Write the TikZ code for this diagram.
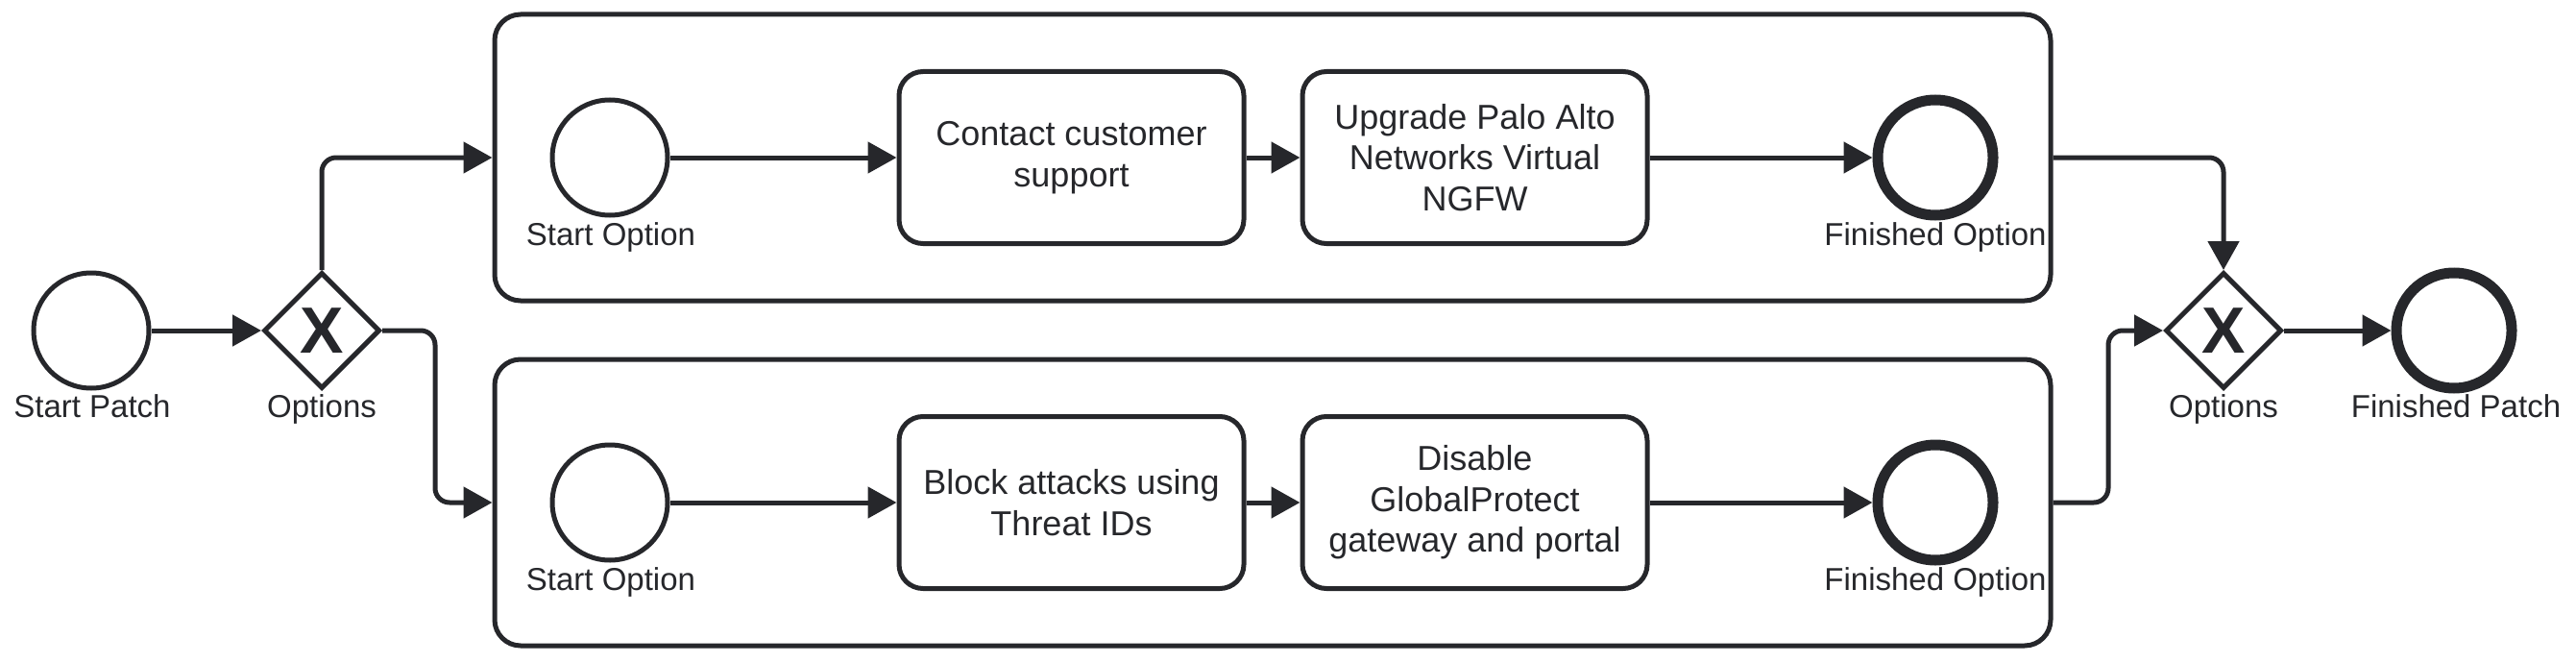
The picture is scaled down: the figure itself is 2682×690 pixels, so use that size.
\documentclass[tikz,border=0pt]{standalone}
\usepackage{fontspec}
\setmainfont{Liberation Sans}
\usetikzlibrary{arrows.meta,shapes.geometric}
\definecolor{ink}{HTML}{26272B}
\begin{document}
\begin{tikzpicture}[x=1pt,y=-1pt,
  ev/.style={circle,draw=ink,line width=5pt,minimum size=120pt,inner sep=0pt},
  evend/.style={ev,line width=11pt},
  gw/.style={diamond,draw=ink,line width=5pt,minimum width=121pt,minimum height=121pt,inner sep=0pt,aspect=1,font=\fontsize{68}{68}\selectfont\bfseries,text=ink},
  pool/.style={draw=ink,line width=5pt,rounded corners=27pt,minimum width=1620pt,minimum height=298pt,inner sep=0pt},
  task/.style={draw=ink,line width=5pt,rounded corners=25pt,minimum width=359pt,minimum height=179pt,align=center,font=\fontsize{36}{42.5}\selectfont,text=ink},
  lbl/.style={font=\fontsize{33}{39}\selectfont,text=ink,anchor=base,inner sep=0pt},
  flow/.style={draw=ink,line width=5pt,-{Triangle[length=30pt,width=32pt]},rounded corners=15pt},
]
\useasboundingbox (0,0) rectangle (2682,690);
% pools
\node[pool] (pool1) at (1325,164) {};
\node[pool] (pool2) at (1325,523) {};
% outer events and gateways
\node[ev] (sp) at (95,344) {};
\node[gw] (g1) at (335,344) {X};
\node[gw] (g2) at (2315,344) {X};
\node[evend] (fp) at (2555,344) {};
% top lane
\node[ev] (so1) at (635,164) {};
\node[task] (t1) at (1115.5,164) {Contact customer\\support};
\node[task] (t2) at (1535.5,164) {Upgrade Palo Alto\\Networks Virtual\\NGFW};
\node[evend] (fo1) at (2015,164) {};
% bottom lane
\node[ev] (so2) at (635,523) {};
\node[task] (t3) at (1115.5,523) {Block attacks using\\Threat IDs};
\node[task] (t4) at (1535.5,523) {Disable\\GlobalProtect\\gateway and portal};
\node[evend] (fo2) at (2015,523) {};
% labels
\node[lbl] (lsp) at (96,434) {Start Patch};
\node[lbl] (lg1) at (335,434) {Options};
\node[lbl] (lg2) at (2315,434) {Options};
\node[lbl] (lfp) at (2557,434) {Finished Patch};
\node[lbl] (lso1) at (636,255) {Start Option};
\node[lbl] (lfo1) at (2015,255) {Finished Option};
\node[lbl] (lso2) at (636,614) {Start Option};
\node[lbl] (lfo2) at (2015,614) {Finished Option};
% bend points
\coordinate (c1) at (453,344);
\coordinate (c2) at (2195,523);
% connectors
\draw[flow] (sp) -- (g1);
\draw[flow] (g1.north) |- (pool1.west);
\draw[flow] (g1.east) -- (c1) |- (pool2.west);
\draw[flow] (pool1.east) -| (g2.north);
\draw[flow] (pool2.east) -- (c2) |- (g2.west);
\draw[flow] (g2) -- (fp);
\draw[flow] (so1) -- (t1);
\draw[flow] (t1) -- (t2);
\draw[flow] (t2) -- (fo1);
\draw[flow] (so2) -- (t3);
\draw[flow] (t3) -- (t4);
\draw[flow] (t4) -- (fo2);
\end{tikzpicture}
\end{document}
